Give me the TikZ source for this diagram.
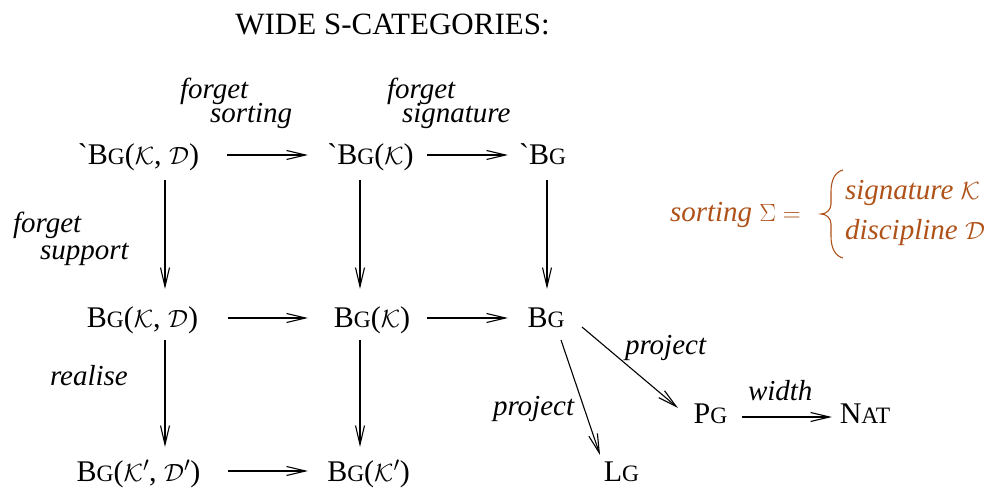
\documentclass[tikz,border=0pt]{standalone}
\usepackage{fontspec}
\setmainfont{Liberation Serif}
\newfontfamily\gravefont{Liberation Serif}[Ligatures=TeXOff]
\usetikzlibrary{arrows.meta,calc}
\definecolor{sortcol}{RGB}{175,82,25}
\newcommand\smc[1]{{\fontsize{23.5}{26}\selectfont #1}}
\newcommand\BG{B\smc{G}}
\newcommand\lft{{\gravefont\char"60}}
\begin{document}
\begin{tikzpicture}[x=1pt,y=-1pt,
  every node/.style={inner sep=0pt,outer sep=0pt},
  obj/.style={anchor=base,font=\fontsize{30}{34}\selectfont},
  lbl/.style={anchor=base west,font=\fontsize{29}{33}\selectfont\itshape},
  srt/.style={anchor=base west,text=sortcol,font=\fontsize{29}{33}\selectfont},
  arr/.style={-{Straight Barb[length=19pt,width=9pt]},line width=1.1pt}]
\useasboundingbox (0,0) rectangle (989,489);

% title
\node[anchor=base,font=\fontsize{31}{35}\selectfont] (title) at (392.5,35) {WIDE S-CATEGORIES:};

% objects
\node[obj] (n1) at (138.5,165) {\lft\BG($\mathcal{K}$, $\mathcal{D}$)};
\node[obj] (n2) at (370.5,165) {\lft\BG($\mathcal{K}$)};
\node[obj] (n3) at (542.5,165) {\lft\BG};
\node[obj] (m1) at (142.5,328) {\BG($\mathcal{K}$, $\mathcal{D}$)};
\node[obj] (m2) at (372,328) {\BG($\mathcal{K}$)};
\node[obj] (m3) at (546,328) {\BG};
\node[obj] (b1) at (138.5,481) {\BG($\mathcal{K}'$, $\mathcal{D}'$)};
\node[obj] (b2) at (368.5,481) {\BG($\mathcal{K}'$)};
\node[obj] (lg) at (621.5,481) {L\smc{G}};
\node[obj] (pg) at (710.5,424) {P\smc{G}};
\node[obj] (nat) at (865,424) {N\smc{AT}};

% horizontal maps
\draw[arr] ($(n1.base)+(88.5,-10)$) -- ($(n2.base)+(-62.5,-10)$);
\draw[arr] ($(n2.base)+(56.5,-10)$) -- ($(n3.base)+(-34.5,-10)$);
\draw[arr] ($(m1.base)+(85.5,-10)$) -- ($(m2.base)+(-64,-10)$);
\draw[arr] ($(m2.base)+(55,-10)$) -- ($(m3.base)+(-38,-10)$);
\draw[arr] ($(b1.base)+(89.5,-10)$) -- ($(b2.base)+(-60.5,-10)$);

% vertical maps
\draw[arr] ($(n1.base)+(26.5,15)$) -- ($(m1.base)+(22.5,-39)$);
\draw[arr] ($(m1.base)+(22.5,12)$) -- ($(b1.base)+(26.5,-34)$);
\draw[arr] ($(n2.base)+(-10.5,15)$) -- ($(m2.base)+(-12,-39)$);
\draw[arr] ($(m2.base)+(-12,12)$) -- ($(b2.base)+(-8.5,-34)$);
\draw[arr] ($(n3.base)+(4.5,15)$) -- ($(m3.base)+(1,-39)$);

% projections and width
\draw[arr] ($(m3.base)+(15,12)$) -- ($(lg.base)+(-21.5,-26)$);
\draw[arr] ($(m3.base)+(36,-1)$) -- ($(pg.base)+(-32.5,-16)$);
\draw[arr] ($(pg.base)+(31.5,-7)$) -- ($(nat.base)+(-33,-7)$);

% labels
\node[lbl] (l1a) at (180,99) {forget};
\node[lbl] (l1b) at (210,123) {sorting};
\node[lbl] (l2a) at (387,99) {forget};
\node[lbl] (l2b) at (402,123) {signature};
\node[lbl] (l3a) at (13,233) {forget};
\node[lbl] (l3b) at (40,260) {support};
\node[lbl] (l4) at (50,385) {realise};
\node[lbl] (l5) at (493,415) {project};
\node[lbl] (l6) at (625,355) {project};
\node[lbl] (l7) at (748,400) {width};

% sorting legend
\node[srt] (s0) at (670,222) {\textit{sorting} $\Sigma =$};
\node[srt] (s1) at (845,200) {\textit{signature} $\mathcal{K}$};
\node[srt] (s2) at (845,240) {\textit{discipline} $\mathcal{D}$};
\draw[sortcol,line width=1.1pt]
  (843,170) .. controls (835,172) and (831,180) .. (831,192) -- (831,204)
  .. controls (831,210) and (826,214) .. (821,214)
  .. controls (826,214) and (831,218) .. (831,224) -- (831,236)
  .. controls (831,248) and (835,256) .. (843,258);
\end{tikzpicture}
\end{document}
